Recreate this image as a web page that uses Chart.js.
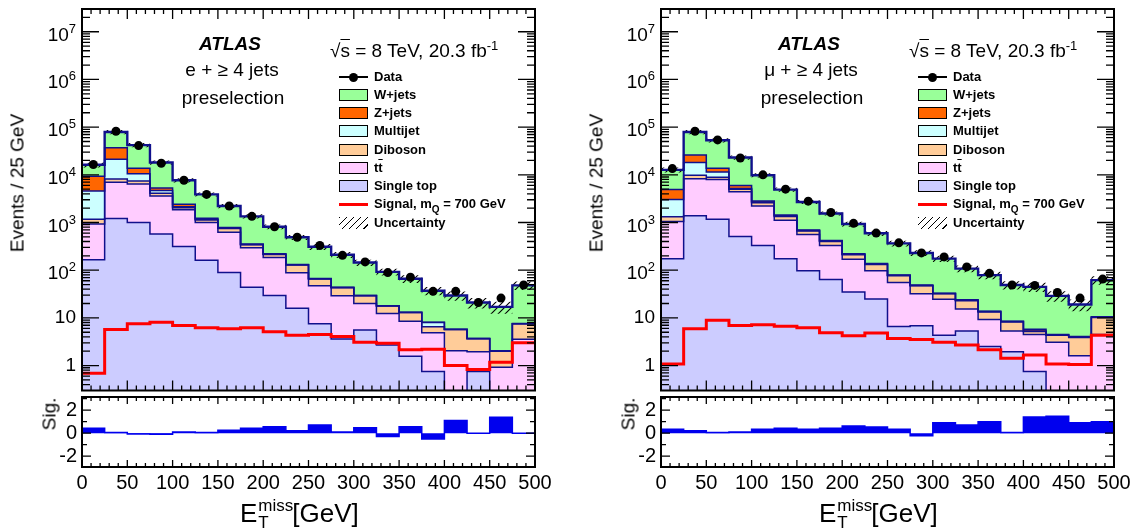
<!DOCTYPE html>
<html>
<head>
<meta charset="utf-8">
<script src="https://cdn.jsdelivr.net/npm/chart.js@4.4.1/dist/chart.umd.min.js"></script>
<style>
  html, body { margin: 0; padding: 0; background: #fff; }
  body { width: 1136px; height: 531px; position: relative; overflow: hidden;
         font-family: "Liberation Sans", Arial, Helvetica, sans-serif; color: #000; }
  canvas { position: absolute; }
  .t { position: absolute; white-space: nowrap; line-height: 1; font-size: 19px; }
  .c { transform: translate(-50%, -50%); }
  .rot { transform: translate(-50%, -50%) rotate(-90deg); }
  .mk { position: absolute; width: 29px; height: 12px; box-sizing: border-box; }
  .lt { position: absolute; white-space: nowrap; line-height: 1; font-size: 13px; font-weight: bold; }
  .xt { position: absolute; white-space: nowrap; font-size: 26px; line-height: 26px; }
  .xt .st { display: inline-block; position: relative; width: 35px; height: 26px; vertical-align: top; }
  .xt .st span { position: absolute; left: 1px; font-size: 17px; line-height: 17px; }
</style>
</head>
<body>
<canvas id="mainE" width="557" height="395" style="left:0px;top:0px"></canvas>
<canvas id="subE" width="557" height="136" style="left:0px;top:395px"></canvas>
<canvas id="mainMu" width="557" height="395" style="left:579px;top:0px"></canvas>
<canvas id="subMu" width="557" height="136" style="left:579px;top:395px"></canvas>
<script>
// bin edges and tick values (GeV)
const binEdges = [0, 25, 50, 75, 100, 125, 150, 175, 200, 225, 250, 275, 300, 325, 350, 375, 400, 425, 450, 475, 500];
const xTickValues = [0, 50, 100, 150, 200, 250, 300, 350, 400, 450, 500];
const sigTickValues = [-2, 0, 2];
const logTickValues = [1, 10, 100, 1e3, 1e4, 1e5, 1e6, 1e7];

// e + >= 4 jets
const eData      = [16500, 82000, 41000, 17500, 7700, 3880, 2220, 1345, 815, 490, 330, 205, 149, 89, 71, 36, 36, 21, 26, 49];
const eSingleTop = [166, 1217, 1000, 575, 315, 162, 89, 44, 29.5, 16, 7.5, 3.6, 5.6, 2.7, 1.56, 0.75, 0, 0.75, 0, 0];
const eTtbar     = [764, 5730, 5450, 3025, 1525, 840, 535, 251, 154, 72, 39.5, 25.4, 14.4, 9.6, 6.9, 4.15, 2.04, 1.2, 0.92, 3.55];
const eDiboson   = [240, 1250, 950, 500, 210, 130, 126, 45, 29, 40, 18, 14, 9, 5.5, 4.5, 1.6, 3.66, 1.7, 1.08, 3.95];
const eMultijet  = [3380, 13100, 3100, 600, 100, 40, 20, 5, 3, 2, 1, 0.5, 0.3, 0.1, 0.05, 1.5, 0.02, 0.03, 0.02, 0.05];
const eZjets     = [4750, 15700, 3300, 600, 250, 60, 20, 11, 7, 1, 1, 0.5, 0.2, 0.1, 0.05, 0.1, 0.03, 0.02, 0.02, 0.05];
const eWjets     = [6900, 42000, 28200, 12800, 5300, 2650, 1430, 990, 593, 359, 243, 166, 115, 74, 53, 29, 23.7, 17.3, 15, 40.4];
const eSignal    = [0.69, 5.7, 7.5, 8.1, 6.9, 6.2, 5.9, 6.2, 5.1, 4.3, 4.5, 4.05, 3.1, 2.95, 2.14, 2.2, 1.0, 0.83, 1.17, 3.0];
const eRelErr    = [0.12, 0.1, 0.1, 0.1, 0.1, 0.1, 0.1, 0.1, 0.12, 0.12, 0.14, 0.14, 0.15, 0.16, 0.18, 0.2, 0.22, 0.25, 0.28, 0.2];
const eSig       = [0.43, 0.06, -0.08, -0.1, 0.1, 0.05, 0.25, 0.42, 0.55, 0.2, 0.72, 0.1, 0.48, -0.3, 0.55, -0.5, 1.1, 0, 1.38, 0];

// mu + >= 4 jets
const muData      = [13500, 82000, 54000, 22500, 10000, 5000, 2800, 1620, 960, 600, 375, 230, 190, 117, 86, 49, 48, 34, 26, 65];
const muSingleTop = [174, 1380, 1170, 510, 330, 174, 97, 64, 35, 25, 6.6, 6.8, 4.3, 5.3, 2.5, 1.95, 0.75, 0, 0, 0];
const muTtbar     = [876, 6920, 6780, 3890, 1890, 946, 463, 266, 135, 72, 48.4, 25.2, 20.4, 10.1, 6.8, 3.35, 3.75, 3.1, 1.6, 4.5];
const muDiboson   = [270, 1500, 950, 600, 380, 220, 100, 70, 40, 35, 21, 15, 7.3, 7.6, 4.0, 2.9, 0.7, 1.2, 2.3, 5.7];
const muMultijet  = [1730, 8300, 2500, 150, 100, 40, 20, 10, 5, 3, 2, 1, 0.5, 0.5, 0.3, 0.2, 0.1, 0.1, 0.1, 0.1];
const muZjets     = [1850, 7900, 2400, 850, 120, 60, 15, 10, 7, 3, 1, 1, 0.5, 0.5, 0.2, 0.1, 0.45, 0.1, 0.05, 0.2];
const muWjets     = [7800, 53000, 39200, 17000, 6980, 3460, 2005, 1130, 708, 457, 286, 181, 142, 84, 65, 40.5, 39, 24.5, 15, 51.5];
const muSignal    = [1.08, 5.9, 8.9, 6.9, 7.2, 6.7, 6.2, 4.9, 4.2, 4.8, 3.7, 3.5, 3.1, 2.7, 2.14, 1.42, 1.67, 1.08, 1.05, 4.3];
const muRelErr    = [0.12, 0.1, 0.1, 0.1, 0.1, 0.1, 0.1, 0.1, 0.12, 0.12, 0.14, 0.14, 0.15, 0.16, 0.18, 0.2, 0.22, 0.25, 0.28, 0.2];
const muSig       = [0.34, 0.2, 0.05, 0.1, 0.34, 0.43, 0.34, 0.43, 0.63, 0.54, 0.34, -0.23, 0.91, 0.71, 1.0, 0.05, 1.4, 1.48, 0.91, 1.0];

// colours, stack order bottom -> top
const stackColors = ['#ccccff', '#ffccff', '#ffcc99', '#ccffff', '#ff6600', '#99ff99'];
const lineNavy = '#10108c';
const sigBlue = '#0000ee';

Chart.defaults.font.family = '"Liberation Sans", Arial, sans-serif';
Chart.defaults.color = '#000';

// ROOT style frame: box plus inward ticks on all four sides, log labels with superscripts
const rootFrame = {
  id: 'rootFrame',
  afterDatasetsDraw(chart, args, opts) {
    if (!opts || !opts.xTicks) return;
    const ctx = chart.ctx, a = chart.chartArea;
    const xs = chart.scales.x, ys = chart.scales.y;
    ctx.save();
    ctx.strokeStyle = '#000';
    ctx.lineWidth = 1.3;
    ctx.beginPath();
    opts.xTicks.forEach(t => {
      const px = xs.getPixelForValue(t.v);
      ctx.moveTo(px, a.bottom); ctx.lineTo(px, a.bottom - t.len);
      ctx.moveTo(px, a.top); ctx.lineTo(px, a.top + t.len);
    });
    opts.yTicks.forEach(t => {
      const py = ys.getPixelForValue(t.v);
      ctx.moveTo(a.left, py); ctx.lineTo(a.left + t.len, py);
      ctx.moveTo(a.right, py); ctx.lineTo(a.right - t.len, py);
    });
    ctx.stroke();
    ctx.lineWidth = 2;
    ctx.strokeRect(a.left, a.top, a.right - a.left, a.bottom - a.top);
    if (opts.logLabels) {
      ctx.fillStyle = '#000';
      ctx.textAlign = 'right';
      const xr = a.left - 6;
      logTickValues.forEach(v => {
        const py = ys.getPixelForValue(v);
        const n = Math.round(Math.log10(v));
        if (n <= 1) {
          ctx.font = '19px "Liberation Sans", Arial, sans-serif';
          ctx.textBaseline = 'middle';
          ctx.fillText(n === 0 ? '1' : '10', xr, py);
        } else {
          ctx.textBaseline = 'alphabetic';
          ctx.font = '13px "Liberation Sans", Arial, sans-serif';
          const ew = ctx.measureText(String(n)).width;
          ctx.fillText(String(n), xr, py + 1);
          ctx.font = '19px "Liberation Sans", Arial, sans-serif';
          ctx.fillText('10', xr - ew, py + 9);
        }
      });
    }
    ctx.restore();
  }
};
Chart.register(rootFrame);

function stepPoints(vals, floor) {
  const pts = vals.map((v, i) => ({ x: binEdges[i], y: floor ? Math.max(v, floor) : v }));
  const last = vals[vals.length - 1];
  pts.push({ x: binEdges[vals.length], y: floor ? Math.max(last, floor) : last });
  return pts;
}

function cumulate(layers) {
  const out = [];
  let run = layers[0].map(() => 0);
  layers.forEach(l => { run = run.map((r, i) => r + l[i]); out.push(run); });
  return out;
}

function xTickList(maj, min) {
  const list = [];
  for (let v = 0; v <= 500; v += 10) list.push({ v: v, len: v % 50 === 0 ? maj : min });
  return list;
}

function logTickList() {
  const list = [];
  for (let n = -1; n <= 7; n++) {
    for (let k = 1; k <= 9; k++) {
      const v = k * Math.pow(10, n);
      if (v >= 0.33 && v <= 3e7) list.push({ v: v, len: k === 1 ? 17 : 8 });
    }
  }
  return list;
}

function hatchPattern(ctx) {
  const c = document.createElement('canvas');
  c.width = 7; c.height = 7;
  const g = c.getContext('2d');
  g.strokeStyle = '#000';
  g.lineWidth = 1.1;
  g.beginPath();
  g.moveTo(0, 7); g.lineTo(7, 0);
  g.moveTo(-1, 1); g.lineTo(1, -1);
  g.moveTo(6, 8); g.lineTo(8, 6);
  g.stroke();
  return ctx.createPattern(c, 'repeat');
}

// keep the chart area where we want it: no label overflow padding
function fixWidth(w) {
  return s => { s.width = w; s.paddingTop = 0; s.paddingBottom = 0; };
}
function fixHeight(h) {
  return s => { s.height = h; s.paddingLeft = 0; s.paddingRight = 0; };
}

function makePanel(mainId, subId, layers, data, signal, relErr, sig) {
  const mainCanvas = document.getElementById(mainId);
  const ctx = mainCanvas.getContext('2d');
  const cum = cumulate(layers);
  const total = cum[cum.length - 1];
  const centers = data.map((v, i) => ({ x: (binEdges[i] + binEdges[i + 1]) / 2, y: v }));

  const datasets = cum.map((c, i) => ({
    data: stepPoints(c, 0.01),
    stepped: 'before',
    borderColor: lineNavy,
    borderWidth: i === cum.length - 1 ? 2.4 : 1.5,
    backgroundColor: stackColors[i],
    fill: i === 0 ? 'start' : '-1',
    pointRadius: 0,
    order: 20 - i
  }));
  datasets.push({
    data: stepPoints(total.map((t, i) => t * (1 + relErr[i]))),
    stepped: 'before', borderWidth: 0, pointRadius: 0,
    backgroundColor: hatchPattern(ctx), fill: '+1', order: 4
  });
  datasets.push({
    data: stepPoints(total.map((t, i) => t * (1 - relErr[i]))),
    stepped: 'before', borderWidth: 0, pointRadius: 0, fill: false, order: 4
  });
  datasets.push({
    data: stepPoints(signal),
    stepped: 'before', borderColor: '#ff0000', borderWidth: 3, pointRadius: 0, fill: false, order: 2
  });
  datasets.push({
    data: centers, showLine: false, pointRadius: 4.5,
    pointBackgroundColor: '#000', pointBorderColor: '#000', borderWidth: 0, fill: false, order: 0
  });

  new Chart(mainCanvas, {
    type: 'line',
    data: { datasets: datasets },
    options: {
      animation: false, responsive: false, events: [],
      layout: { padding: { top: 9, right: 22, bottom: 2, left: 0 } },
      plugins: {
        legend: { display: false }, tooltip: { enabled: false },
        filler: { drawTime: 'beforeDatasetsDraw', propagate: false },
        rootFrame: { xTicks: xTickList(10, 5), yTicks: logTickList(), logLabels: true }
      },
      scales: {
        x: { type: 'linear', min: 0, max: 500,
             grid: { display: false, drawTicks: false }, border: { display: false },
             ticks: { display: false }, afterFit: fixHeight(0) },
        y: { type: 'logarithmic', min: 0.33, max: 3e7,
             grid: { display: false, drawTicks: false }, border: { display: false },
             ticks: { display: false }, afterFit: fixWidth(82) }
      }
    }
  });

  new Chart(document.getElementById(subId), {
    type: 'line',
    data: { datasets: [{
      data: stepPoints(sig), stepped: 'before',
      borderColor: sigBlue, borderWidth: 1.5, backgroundColor: sigBlue,
      fill: { value: 0 }, pointRadius: 0
    }] },
    options: {
      animation: false, responsive: false, events: [],
      layout: { padding: { top: 2, right: 22, bottom: 0, left: 0 } },
      plugins: {
        legend: { display: false }, tooltip: { enabled: false },
        rootFrame: {
          xTicks: xTickList(7, 4),
          yTicks: [{ v: -2, len: 9 }, { v: 0, len: 9 }, { v: 2, len: 9 },
                   { v: -1, len: 5 }, { v: 1, len: 5 }, { v: 3, len: 5 }]
        }
      },
      scales: {
        x: { type: 'linear', min: 0, max: 500,
             grid: { display: false, drawTicks: false }, border: { display: false },
             afterBuildTicks: s => { s.ticks = xTickValues.map(v => ({ value: v })); },
             ticks: { font: { size: 20 }, padding: 4, maxRotation: 0, autoSkip: false },
             afterFit: fixHeight(64) },
        y: { type: 'linear', min: -2.95, max: 3.15,
             grid: { display: false, drawTicks: false }, border: { display: false },
             afterBuildTicks: s => { s.ticks = sigTickValues.map(v => ({ value: v })); },
             ticks: { font: { size: 20 }, padding: 5 },
             afterFit: fixWidth(82) }
      }
    }
  });
}

makePanel('mainE', 'subE', [eSingleTop, eTtbar, eDiboson, eMultijet, eZjets, eWjets], eData, eSignal, eRelErr, eSig);
makePanel('mainMu', 'subMu', [muSingleTop, muTtbar, muDiboson, muMultijet, muZjets, muWjets], muData, muSignal, muRelErr, muSig);

// text, legend and axis titles
const legendRows = [77, 95, 113, 131, 150, 168, 186, 204, 223];
const legendItems = [
  { html: 'Data', kind: 'data' },
  { html: 'W+jets', kind: 'box', color: stackColors[5] },
  { html: 'Z+jets', kind: 'box', color: stackColors[4] },
  { html: 'Multijet', kind: 'box', color: stackColors[3] },
  { html: 'Diboson', kind: 'box', color: stackColors[2] },
  { html: 't<span style="text-decoration:overline">t</span>', kind: 'box', color: stackColors[1] },
  { html: 'Single top', kind: 'box', color: stackColors[0] },
  { html: 'Signal, m<sub style="font-size:10px;vertical-align:-5px">Q</sub> = 700 GeV', kind: 'line' },
  { html: 'Uncertainty', kind: 'hatch' }
];

function addEl(cls, html, css) {
  const d = document.createElement('div');
  d.className = cls;
  d.innerHTML = html;
  Object.assign(d.style, css);
  document.body.appendChild(d);
  return d;
}

function addPanelText(ox, channel) {
  addEl('t c', 'ATLAS', { left: (ox + 230) + 'px', top: '43px', fontWeight: 'bold', fontStyle: 'italic' });
  addEl('t c', channel, { left: (ox + 232) + 'px', top: '69px' });
  addEl('t c', 'preselection', { left: (ox + 233) + 'px', top: '97px' });
  addEl('t', '\u221A<span style="text-decoration:overline">s</span> = 8 TeV, 20.3 fb<sup style="font-size:13px;vertical-align:7px">-1</sup>',
        { left: (ox + 330) + 'px', top: '39px' });
  legendItems.forEach((it, i) => {
    const y = legendRows[i];
    const mk = addEl('mk', '', { left: (ox + 339) + 'px', top: (y - 6) + 'px' });
    if (it.kind === 'box') {
      Object.assign(mk.style, { background: it.color, border: '1.4px solid #000' });
    } else if (it.kind === 'data') {
      mk.innerHTML = '<div style="position:absolute;left:0;top:5.3px;width:29px;height:1.4px;background:#000"></div>' +
                     '<div style="position:absolute;left:10px;top:1.5px;width:9px;height:9px;border-radius:50%;background:#000"></div>';
    } else if (it.kind === 'line') {
      mk.innerHTML = '<div style="position:absolute;left:0;top:4.5px;width:29px;height:3px;background:#ff0000"></div>';
    } else {
      mk.style.background = 'repeating-linear-gradient(135deg, #000 0 1.2px, transparent 1.2px 5px)';
    }
    addEl('lt', it.html, { left: (ox + 374) + 'px', top: (y - 7) + 'px' });
  });
  addEl('t rot', 'Events / 25 GeV', { left: (ox + 17) + 'px', top: '183px' });
  addEl('t rot', 'Sig.', { left: (ox + 49) + 'px', top: '414px' });
  addEl('xt', 'E<span class="st"><span style="top:-3px">miss</span><span style="top:14px">T</span></span>[GeV]',
        { left: (ox + 240) + 'px', top: '500px' });
}

addPanelText(0, 'e + \u2265 4 jets');
addPanelText(579, '\u03BC + \u2265 4 jets');
</script>
</body>
</html>
